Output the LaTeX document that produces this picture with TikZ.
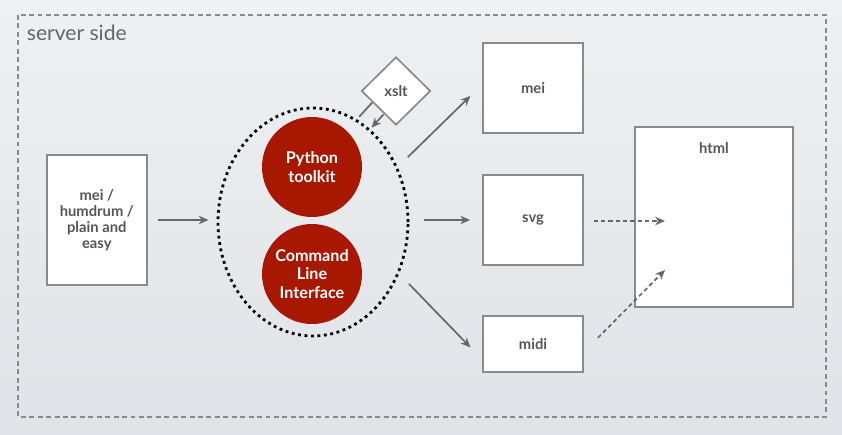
\documentclass[tikz,border=0pt]{standalone}
\usepackage{fontspec}
\setmainfont{Lato}
\usetikzlibrary{arrows.meta, positioning, shapes.geometric, calc}

\definecolor{bgtop}{HTML}{EEF0F2}
\definecolor{bgbot}{HTML}{E0E3E7}
\definecolor{bordergray}{HTML}{8A8A8A}
\definecolor{arrowgray}{HTML}{666666}
\definecolor{textgray}{HTML}{555555}
\definecolor{toolred}{HTML}{A81700}

\begin{document}
\begin{tikzpicture}[
    box/.style={draw=bordergray, fill=white, line width=1.2pt, rectangle, inner sep=2pt, align=center, text=textgray, font=\fontsize{10.5}{11.3}\selectfont\bfseries},
    tool/.style={circle, fill=toolred, minimum size=2.5cm, inner sep=0pt, align=center, text=white, font=\fontsize{11.5}{13}\selectfont\bfseries},
    arr/.style={-{Stealth[length=7pt, width=6pt]}, line width=1.2pt, arrowgray},
    dotarr/.style={arr, dash pattern=on 3pt off 2.2pt},
    link/.style={line width=1.2pt, arrowgray}
]

% background and server frame
\shade[top color=bgtop, bottom color=bgbot] (0,0) rectangle (21.05,-10.85);
\draw[bordergray, line width=1pt, dash pattern=on 3.5pt off 2.5pt] (0.45,-0.375) rectangle (20.65,-10.425);
\node[anchor=base west, inner sep=0pt, text=textgray!90, font=\fontsize{15}{17}\selectfont] (server) at (0.665,-1.02) {server side};

% input formats
\node[box, minimum width=2.5cm, minimum height=3.25cm] (input) at (2.42,-5.5) {mei /\\ humdrum /\\ plain and\\ easy};

% toolkit and command line
\node[ellipse, draw, line width=2pt, dash pattern=on 2pt off 2.6pt, minimum width=4.75cm, minimum height=5.7cm] (tools) at (7.825,-5.55) {};
\node[tool] (python) at (7.8,-4.175) {Python\\ toolkit};
\node[tool] (cli) at (7.8,-6.85) {Command\\ Line\\ Interface};
\node[diamond, draw=bordergray, fill=white, line width=1.2pt, inner sep=0pt, minimum width=1.725cm, minimum height=1.7cm, text=textgray, font=\fontsize{10.5}{11.3}\selectfont\bfseries] (xslt) at (9.9,-2.275) {xslt};
\draw[link] ($(xslt.south west)+(-0.15,0.15)$) -- ++(-0.33,-0.36);
\draw[arr] ($(xslt.south west)+(0.13,-0.15)$) -- ++(-0.3,-0.33);

% output formats
\node[box, minimum width=2.5cm, minimum height=2.25cm] (mei) at (13.325,-2.2) {mei};
\node[box, minimum width=2.5cm, minimum height=2.25cm] (svg) at (13.325,-5.5) {svg};
\node[box, minimum width=2.5cm, minimum height=1.4cm] (midi) at (13.325,-8.6) {midi};
\node[box, minimum width=3.95cm, minimum height=4.5cm] (html) at (17.85,-5.425) {};
\node[inner sep=0pt, text=textgray, font=\fontsize{10.5}{11.3}\selectfont\bfseries, below=0.4cm of html.north] (htmltitle) {html};
\coordinate (htmlsvg) at (16.625,-5.525);
\coordinate (htmlmidi) at (16.625,-6.75);

% conversions
\draw[arr, shorten <=0.25cm, shorten >=0.2cm] (input.east) -- (input.east -| tools.west);
\draw[arr, shorten <=0.35cm, shorten >=0.41cm] (tools.33) -- (mei.176);
\draw[arr, shorten <=0.375cm, shorten >=0.3cm] (tools.east |- svg.west) -- (svg.west);
\draw[arr, shorten <=0.35cm, shorten >=0.42cm] (tools.-31) -- (midi.197);
\draw[dotarr, shorten <=0.25cm] (svg.east |- htmlsvg) -- (htmlsvg);
\draw[dotarr, shorten <=0.5cm] (midi.-9) -- (htmlmidi);

\end{tikzpicture}
\end{document}
